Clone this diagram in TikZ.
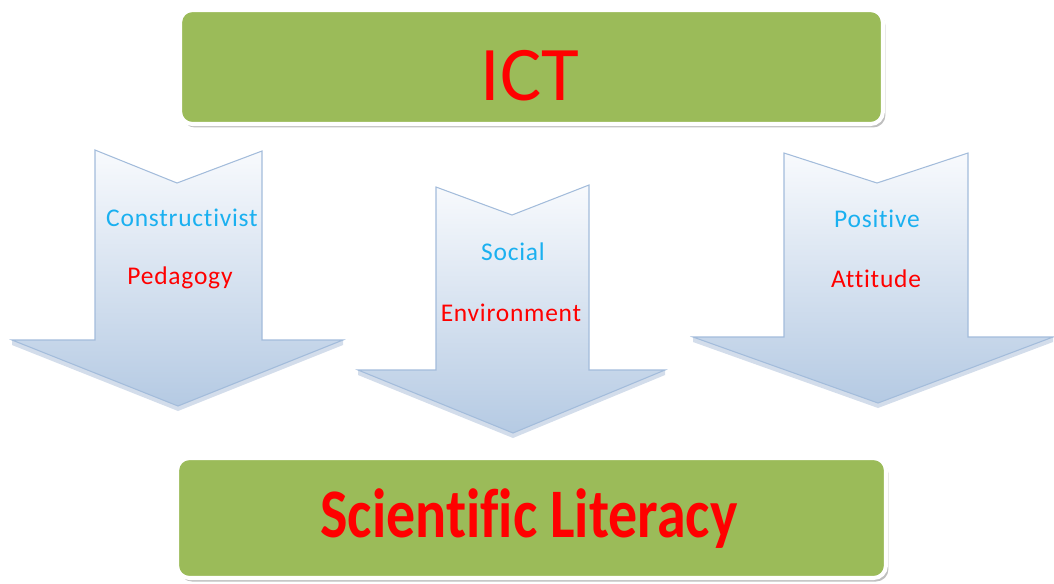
\documentclass[tikz,border=0pt]{standalone}
\usepackage{fontspec}
\setmainfont{Carlito}[Ligatures={NoCommon,NoContextual}]
\usetikzlibrary{positioning}
\usetikzlibrary{shadows}
\definecolor{boxgreen}{HTML}{9BBB59}
\definecolor{arrowtop}{HTML}{F8FAFD}
\definecolor{arrowbot}{HTML}{B5CAE3}
\definecolor{arrowline}{HTML}{A3BCDB}
\definecolor{arrowshade}{HTML}{9DB4D2}
\definecolor{textcyan}{HTML}{1AB0F0}
\definecolor{textred}{HTML}{FF0000}

\begin{document}
\begin{tikzpicture}[x=0.02cm, y=-0.02cm,
        banner/.style={draw=white, line width=2.3pt, fill=boxgreen, rounded corners=7pt,
            drop shadow={shadow xshift=0.05cm, shadow yshift=-0.07cm, fill=black!50, opacity=0.5}},
        flow/.style={draw=arrowline, line width=0.6pt, top color=arrowtop, bottom color=arrowbot},
        flowshadow/.style={fill=arrowshade, opacity=0.45},
        upper/.style={anchor=base, text=textcyan, font=\addfontfeature{LetterSpace=3}\fontsize{14.5}{17}\selectfont},
        lower/.style={anchor=base, text=textred, font=\addfontfeature{LetterSpace=3}\fontsize{14.5}{17}\selectfont}]
        \useasboundingbox (0,0) rectangle (1054,583);

        % ICT
        \node[banner, minimum width=14.06cm, minimum height=2.28cm] (ictbox) at (531.5,67) {};
        \node[anchor=base, text=textred, font=\fontsize{44}{50}\selectfont] (ict) at (530,100) {ICT};

        % Constructivist Pedagogy
        \begin{scope}
            \fill[flowshadow] (12,345) -- (178,411) -- (343,345) -- (343,340) -- (12,340) -- cycle;
            \draw[flow] (95,150) -- (177,183) -- (262,151) -- (262,340) -- (343,340)
                -- (178,406) -- (12,340) -- (95,340) -- cycle;
            \node[upper] (constr) at (182,226) {Constructivist};
            \node[lower] (pedag) at (180,284) {Pedagogy};
        \end{scope}

        % Social Environment
        \begin{scope}
            \fill[flowshadow] (358,375) -- (513,438) -- (665,375) -- (665,370) -- (358,370) -- cycle;
            \draw[flow] (436,187) -- (512,215) -- (589,185) -- (589,370) -- (665,370)
                -- (513,433) -- (358,370) -- (436,370) -- cycle;
            \node[upper] (social) at (513,260) {Social};
            \node[lower] (environ) at (511,321) {Environment};
        \end{scope}

        % Positive Attitude
        \begin{scope}
            \fill[flowshadow] (693,342) -- (878,408) -- (1053,342) -- (1053,337) -- (693,337) -- cycle;
            \draw[flow] (784,153) -- (877,183) -- (968,153) -- (968,337) -- (1053,337)
                -- (878,403) -- (693,337) -- (784,337) -- cycle;
            \node[upper] (positive) at (877,227) {Positive};
            \node[lower] (attitude) at (876,287) {Attitude};
        \end{scope}

        % Scientific Literacy
        \node[banner, minimum width=14.18cm, minimum height=2.4cm] (litbox) at (531.5,518) {};
        \node[anchor=base, text=textred, font=\bfseries\fontsize{33}{40}\selectfont] (literacy) at (529,537)
            {\scalebox{1}[1.2]{Scientific Literacy}};

    \end{tikzpicture}
\end{document}
